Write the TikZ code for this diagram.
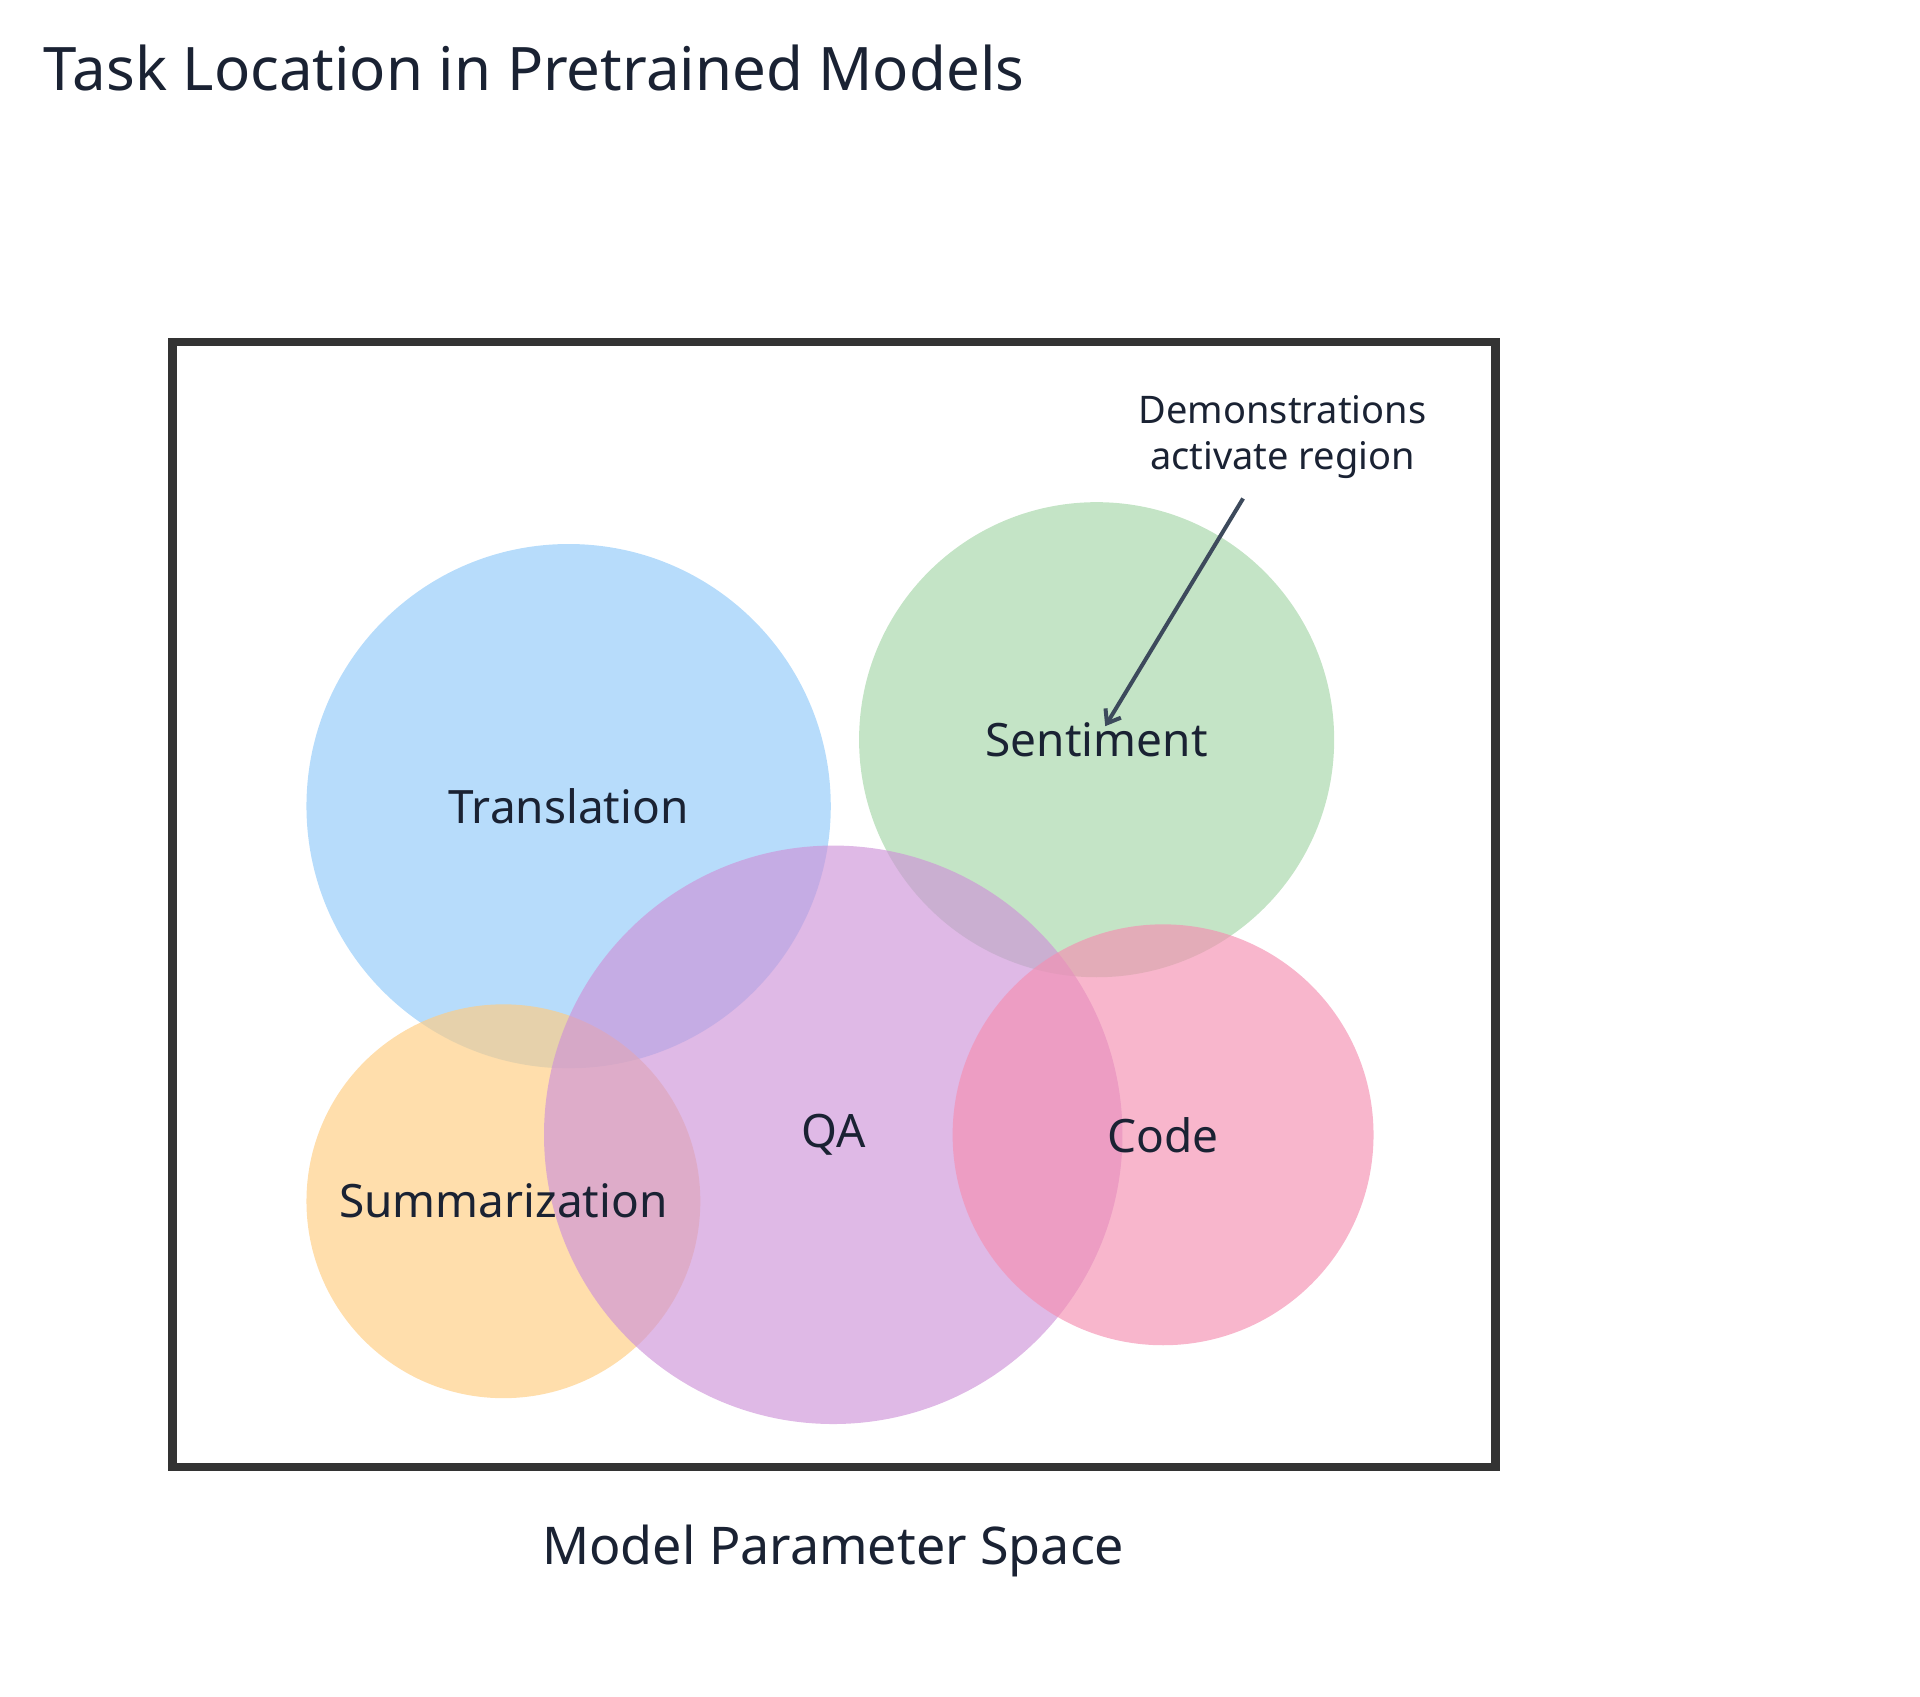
\documentclass[tikz,border=0pt]{standalone}
\usepackage{fontspec}
\setmainfont{Noto Sans}
\usetikzlibrary{arrows.meta}
\definecolor{txt}{HTML}{1A2233}
\definecolor{cblue}{HTML}{90CAF9}
\definecolor{cgreen}{HTML}{A5D6A7}
\definecolor{cpurple}{HTML}{CE93D8}
\definecolor{corange}{HTML}{FFCC80}
\definecolor{cpink}{HTML}{F48FB1}
\definecolor{arr}{HTML}{3D4A5C}
\begin{document}
\begin{tikzpicture}[x=0.6154pt,y=-0.6154pt,
  region/.style={circle,draw=none,fill opacity=0.65,inner sep=0pt},
  lbl/.style={text=txt,font=\fontsize{23}{27}\selectfont}]
\useasboundingbox (0,0) rectangle (1560,1378);
\node[anchor=west,text=txt,font=\fontsize{30}{36}\selectfont] (title) at (30,55) {Task Location in Pretrained Models};
\draw[line width=4.3pt,draw=black!80] (140,278) rectangle (1215,1192);
\node[region,fill=cblue,minimum size=426*0.6154pt] (tr) at (462,655) {};
\node[region,fill=cgreen,minimum size=386*0.6154pt] (se) at (891,601) {};
\node[region,fill=corange,minimum size=320*0.6154pt] (su) at (409,976) {};
\node[region,fill=cpurple,minimum size=470*0.6154pt] (qa) at (677,922) {};
\node[region,fill=cpink,minimum size=342*0.6154pt] (co) at (945,922) {};
\node[lbl] at (tr) {Translation};
\node[lbl] at (se) {Sentiment};
\node[lbl] at (su) {Summarization};
\node[lbl] at (qa) {QA};
\node[lbl] at (co) {Code};
\node[text=txt,align=center,font=\fontsize{19}{23}\selectfont] (demo) at (1042,355) {Demonstrations\\activate region};
\coordinate (tip) at (898,590);
\draw[arr,line width=2pt,-{Straight Barb[length=6pt,width=9pt]}] (1010,405) -- (tip);
\node[text=txt,font=\fontsize{26}{30}\selectfont] (space) at (677,1260) {Model Parameter Space};
\end{tikzpicture}
\end{document}
